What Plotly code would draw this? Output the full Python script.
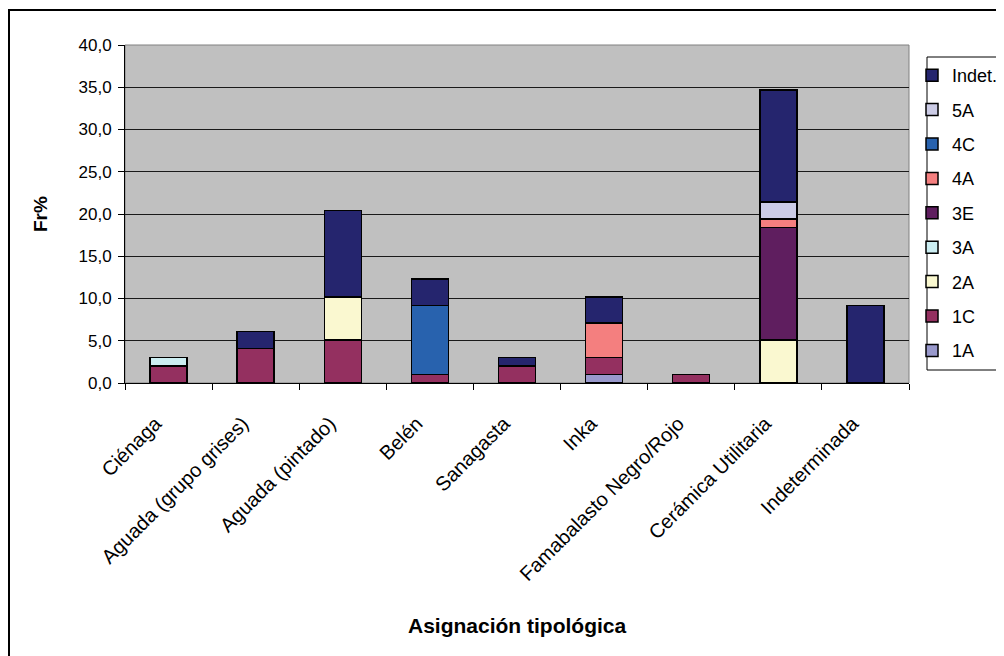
import plotly.graph_objects as go

categories = ["Ciénaga", "Aguada (grupo grises)", "Aguada (pintado)", "Belén",
              "Sanagasta", "Inka", "Famabalasto Negro/Rojo", "Cerámica Utilitaria",
              "Indeterminada"]

# stacked from bottom (1A) to top (Indet.)
s_1A = [None, None, None, None, None, 1.0, None, None, None]
s_1C = [2.0, 4.1, 5.1, 1.0, 2.0, 2.0, 1.0, None, None]
s_2A = [None, None, 5.1, None, None, None, None, 5.1, None]
s_3A = [1.0, None, None, None, None, None, None, None, None]
s_3E = [None, None, None, None, None, None, None, 13.3, None]
s_4A = [None, None, None, None, None, 4.1, None, 1.0, None]
s_4C = [None, None, None, 8.2, None, None, None, None, None]
s_5A = [None, None, None, None, None, None, None, 2.0, None]
s_Indet = [None, 2.0, 10.2, 3.1, 1.0, 3.1, None, 13.3, 9.2]

series_names = ["1A", "1C", "2A", "3A", "3E", "4A", "4C", "5A", "Indet."]
series_values = [s_1A, s_1C, s_2A, s_3A, s_3E, s_4A, s_4C, s_5A, s_Indet]
series_colors = ["#9999CC", "#943060", "#FAF8D0", "#CCEEF2", "#5F1E5F",
                 "#F47F7F", "#2862AE", "#CCCCE6", "#25256E"]

FONT = "Liberation Sans, Arial, sans-serif"

fig = go.Figure()
n = len(series_names)
for i, (name, vals, col) in enumerate(zip(series_names, series_values, series_colors)):
    fig.add_trace(go.Bar(
        x=categories, y=vals, name=name, legendgroup=name,
        legendrank=n - i,
        marker=dict(color=col, line=dict(color="black", width=1.5)),
    ))

# page body has an 8px margin; figure is sized to fill the rest of the window
OFF = 8
W, H = 1004 - OFF, 656 - OFF
# plot area in window pixels
PX0, PX1, PY0, PY1 = 125, 909, 45, 383
L, R, T, B = PX0 - OFF, W - (PX1 - OFF), PY0 - OFF, H - (PY1 - OFF)
pw = PX1 - PX0
ph = PY1 - PY0

def px_x(x):
    return (x - PX0) / pw

def px_y(y):
    return (PY1 - y) / ph

fig.update_layout(
    width=W, height=H,
    margin=dict(l=L, r=R, t=T, b=B, autoexpand=False),
    paper_bgcolor="white",
    plot_bgcolor="#C0C0C0",
    barmode="stack",
    bargap=0.575,
    separators=",.",
    font=dict(family=FONT, color="black", size=17),
    showlegend=True,
    legend=dict(
        x=px_x(912), y=px_y(57), xanchor="left", yanchor="top",
        borderwidth=0, bgcolor="rgba(0,0,0,0)",
        font=dict(size=18, family=FONT),
        traceorder="grouped", tracegroupgap=8, itemwidth=30,
    ),
    xaxis=dict(
        type="category", tickangle=-45, tickson="boundaries",
        ticks="outside", ticklen=6, tickcolor="black",
        tickfont=dict(size=20, family=FONT),
        ticklabelstandoff=20, ticklabelshift=-13,
        showline=True, linecolor="black", linewidth=1,
        showgrid=False, zeroline=False,
    ),
    yaxis=dict(
        range=[0, 40], dtick=5, tickformat=".1f",
        ticks="outside", ticklen=6, tickcolor="black",
        tickfont=dict(size=17, family=FONT),
        ticklabelstandoff=3,
        showline=True, linecolor="black", linewidth=1,
        showgrid=True, gridcolor="#1a1a1a", gridwidth=1,
        zeroline=False,
    ),
    annotations=[
        dict(text="<b>Fr%</b>", x=px_x(40), y=0.5, xref="paper", yref="paper",
             textangle=-90, showarrow=False, font=dict(size=19, family=FONT),
             xanchor="center", yanchor="middle"),
        dict(text="<b>Asignación tipológica</b>", x=0.5, y=px_y(625),
             xref="paper", yref="paper", showarrow=False,
             font=dict(size=21, family=FONT), xanchor="center", yanchor="middle"),
    ],
    shapes=[
        dict(type="rect", xref="paper", yref="paper", x0=0, x1=1, y0=0, y1=1,
             line=dict(color="#808080", width=1), layer="below"),
        # legend frame
        dict(type="rect", xref="paper", yref="paper",
             x0=px_x(927), x1=px_x(1012), y0=px_y(370), y1=px_y(57),
             line=dict(color="black", width=1), fillcolor="white", layer="below"),
        # outer chart frame
        dict(type="rect", xref="paper", yref="paper",
             x0=px_x(9), x1=px_x(1012), y0=px_y(662), y1=px_y(10),
             line=dict(color="black", width=2)),
    ],
)

fig.write_html("out.html")
